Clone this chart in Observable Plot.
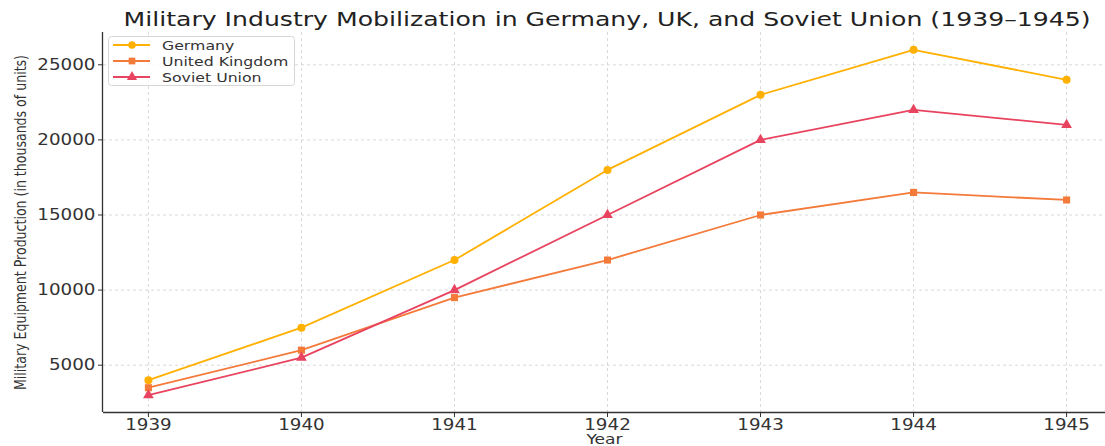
<!DOCTYPE html>
<html>
<head>
<meta charset="utf-8">
<script src="https://cdn.jsdelivr.net/npm/d3@7"></script>
<script src="https://cdn.jsdelivr.net/npm/@observablehq/plot@0.6"></script>
<style>
  body { margin:0; padding:0; background:#fff; font-family:"DejaVu Sans", sans-serif; }
  #wrap { position:relative; width:1105px; height:446px; overflow:hidden; }
  #title { display:block; }
  #chart svg { display:block; }
  #legend { position:absolute; left:108px; top:36px; }
</style>
</head>
<body>
<div id="wrap">
  <svg id="title" width="1105" height="30"><text x="607" y="26" text-anchor="middle" font-family="DejaVu Sans" font-size="20" fill="#222">Military Industry Mobilization in Germany, UK, and Soviet Union (1939–1945)</text></svg>
  <div id="chart"></div>
  <svg id="legend" width="188" height="51"></svg>
</div>
<script>
const years = [1939, 1940, 1941, 1942, 1943, 1944, 1945];
const germany = [4000, 7500, 12000, 18000, 23000, 26000, 24000];
const unitedKingdom = [3500, 6000, 9500, 12000, 15000, 16500, 16000];
const sovietUnion = [3000, 5500, 10000, 15000, 20000, 22000, 21000];
const seriesNames = ["Germany", "United Kingdom", "Soviet Union"];
const seriesColors = ["#FFB000", "#F47A3A", "#E8435F"];
const seriesSymbols = ["circle", "square", "triangle"];
const yTicks = [5000, 10000, 15000, 20000, 25000];

const seriesValues = [germany, unitedKingdom, sovietUnion];
const data = [];
seriesNames.forEach((name, i) => {
  years.forEach((yr, j) => data.push({series: name, year: yr, value: seriesValues[i][j]}));
});

const xDomain = [1938.7, 1945.3];
const yDomain = [1850, 27150];
const yLabel = "Military Equipment Production (in thousands of units)";

const chart = Plot.plot({
  width: 1105,
  height: 416,
  marginLeft: 103,
  marginRight: 0,
  marginTop: 2,
  marginBottom: 34,
  style: {fontFamily: "DejaVu Sans", background: "#fff", overflow: "visible"},
  x: {domain: xDomain, range: [102, 1112]},
  y: {domain: yDomain},
  color: {domain: seriesNames, range: seriesColors},
  symbol: {domain: seriesNames, range: seriesSymbols},
  marks: [
    Plot.gridX(years, {stroke: "#cfcfcf", strokeOpacity: 1, strokeDasharray: "3,3", strokeWidth: 0.8}),
    Plot.gridY(yTicks, {stroke: "#cfcfcf", strokeOpacity: 1, strokeDasharray: "3,3", strokeWidth: 0.8}),
    Plot.axisX(years, {tickFormat: d => String(d), tickSize: 5, tickPadding: 2, fontSize: 15, color: "#333",
      label: null}),
    Plot.axisY(yTicks, {tickFormat: d => String(d), tickSize: 5, tickPadding: 3, fontSize: 15, color: "#333",
      label: null}),
    Plot.text(["Year"], {frameAnchor: "bottom", dy: 27, fontSize: 14, fill: "#333", lineAnchor: "middle"}),
    Plot.text([yLabel], {frameAnchor: "left", textAnchor: "middle", dx: -83, rotate: -90, fontSize: 16, fill: "#333", lineAnchor: "middle"}),
    Plot.ruleX([xDomain[0]], {stroke: "#333", strokeWidth: 1.3}),
    Plot.ruleY([yDomain[0]], {stroke: "#333", strokeWidth: 1.3}),
    Plot.lineY(data, {x: "year", y: "value", z: "series", stroke: "series", strokeWidth: 1.8}),
    Plot.dot(data, {x: "year", y: "value", fill: "series", symbol: "series", r: 4, stroke: "none"})
  ]
});
document.getElementById("chart").appendChild(chart);

// widen horizontal texts to match the reference's stretched rendering
function stretch(el, target) {
  el.setAttribute("textLength", target);
  el.setAttribute("lengthAdjust", "spacingAndGlyphs");
}
chart.querySelectorAll("text").forEach(t => {
  const txt = t.textContent;
  if (txt === yLabel) { stretch(t, 335); return; }
  const w = t.getComputedTextLength();
  if (w > 0) stretch(t, w * 1.22);
});
const titleText = document.querySelector("#title text");
stretch(titleText, 967);

// legend
const lg = d3.select("#legend");
lg.append("rect").attr("x", 0.5).attr("y", 0.5).attr("width", 186).attr("height", 49).attr("rx", 3)
  .attr("fill", "rgba(255,255,255,0.85)").attr("stroke", "#d6d6d6");
seriesNames.forEach((name, i) => {
  const cy = 9 + i * 16;
  const symType = seriesSymbols[i] === "circle" ? d3.symbolCircle : seriesSymbols[i] === "square" ? d3.symbolSquare : d3.symbolTriangle;
  lg.append("line").attr("x1", 5).attr("x2", 42).attr("y1", cy).attr("y2", cy)
    .attr("stroke", seriesColors[i]).attr("stroke-width", 1.8);
  lg.append("path").attr("d", d3.symbol(symType, 45)()).attr("transform", `translate(24,${cy})`)
    .attr("fill", seriesColors[i]);
  const t = lg.append("text").attr("x", 54).attr("y", cy).attr("dy", "0.35em")
    .attr("font-family", "DejaVu Sans").attr("font-size", 13).attr("fill", "#333").text(name);
  const node = t.node();
  stretch(node, node.getComputedTextLength() * 1.21);
});
</script>
</body>
</html>
